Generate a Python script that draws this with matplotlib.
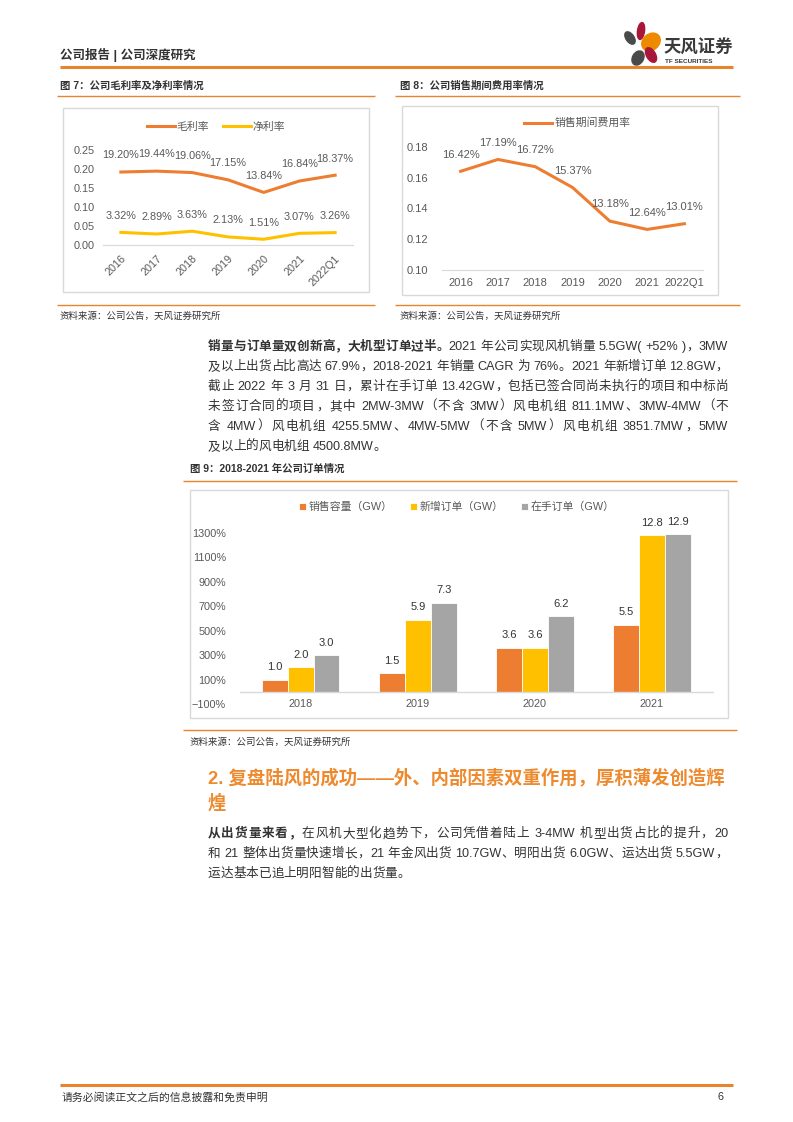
import re
import numpy as np
import matplotlib
matplotlib.use('Agg')
import matplotlib.pyplot as plt
from matplotlib.patches import Ellipse, Rectangle

plt.rcParams['font.family'] = ['Liberation Sans', 'Noto Sans CJK SC', 'DejaVu Sans']
plt.rcParams['axes.unicode_minus'] = True

# ---- data ----
years7 = ['2016', '2017', '2018', '2019', '2020', '2021', '2022Q1']
gross_margin = [0.1920, 0.1944, 0.1906, 0.1715, 0.1384, 0.1684, 0.1837]
net_margin = [0.0332, 0.0289, 0.0363, 0.0213, 0.0151, 0.0307, 0.0326]
expense_ratio = [0.1642, 0.1719, 0.1672, 0.1537, 0.1318, 0.1264, 0.1301]

years9 = ['2018', '2019', '2020', '2021']
sales_gw = [1.0, 1.5, 3.6, 5.5]
new_orders_gw = [2.0, 5.9, 3.6, 12.8]
backlog_gw = [3.0, 7.3, 6.2, 12.9]
y9_ticks = [-1, 1, 3, 5, 7, 9, 11, 13]

ORANGE = '#ED7D31'
YELLOW = '#FFC000'
GRAY = '#A5A5A5'
PAGE_OR = '#E8842C'
HEAD_OR = '#EE8A2E'
TXT = '#333333'
TICK = '#595959'
BOX = '#D9D9D9'

W, H = 793, 1122
fig = plt.figure(figsize=(W / 100, H / 100), dpi=100)
renderer = fig.canvas.get_renderer()

# page layer in pixel coordinates (origin top-left)
page = fig.add_axes([0, 0, 1, 1])
page.set_xlim(0, W)
page.set_ylim(H, 0)
page.axis('off')


def px_axes(x0, y0, x1, y1):
    return fig.add_axes([x0 / W, 1 - y1 / H, (x1 - x0) / W, (y1 - y0) / H])


def hline(x0, x1, y, lw=1.0, color=PAGE_OR):
    page.plot([x0, x1], [y, y], color=color, lw=lw, solid_capstyle='butt')


def text_w(s, size, bold=False):
    t = page.text(0, 0, s, fontsize=size, weight='bold' if bold else 'normal')
    w = t.get_window_extent(renderer).width
    t.remove()
    return w


TOKEN = re.compile(r'[A-Za-z0-9.%+\-()]+| |.')


def justify_line(x0, x1, y, parts, size, justify=True, color=TXT):
    space_w = text_w('a a', size) - text_w('aa', size)
    items = []  # (text_obj or None, width)
    for s, bold in parts:
        for tok in TOKEN.findall(s):
            if tok == ' ':
                items.append((None, space_w))
                continue
            t = page.text(0, y, tok, fontsize=size, weight='bold' if bold else 'normal',
                          va='center', ha='left', color=color)
            items.append((t, t.get_window_extent(renderer).width))
    total = sum(w for _, w in items)
    gap = (x1 - x0 - total) / (len(items) - 1) if justify and len(items) > 1 else 0
    gap = max(gap, -0.5)
    x = x0
    for t, w in items:
        if t is not None:
            t.set_x(x)
        x += w + gap


# ---- header ----
page.text(60, 55, '公司报告 | 公司深度研究', fontsize=9, weight='bold', va='center', color=TXT)
hline(60, 733, 67, lw=2.2)
# logo
page.add_patch(Ellipse((630, 38), 8, 14, angle=-35, color='#4A4A4A'))
page.add_patch(Ellipse((641, 31), 7, 17, angle=8, color='#A8173A'))
page.add_patch(Ellipse((651, 42), 16, 20, angle=50, color='#EE8A00'))
page.add_patch(Ellipse((638, 58), 11, 15, angle=30, color='#4A4A4A'))
page.add_patch(Ellipse((651, 55), 9, 16, angle=-30, color='#A8173A'))
page.text(664, 47, '天风证券', fontsize=12.5, weight='bold', va='center', color='#3A3A3A')
page.text(665, 61, 'TF SECURITIES', fontsize=4.6, weight='bold', va='center', color='#3A3A3A')

# ---- figure 7 & 8 frames ----
page.text(60, 86, '图 7：公司毛利率及净利率情况', fontsize=7.5, weight='bold', va='center', color=TXT)
hline(57, 375, 96)
page.add_patch(Rectangle((63, 108), 306, 184, fill=False, ec=BOX, lw=1))
hline(57, 375, 305)
page.text(60, 316, '资料来源：公司公告，天风证券研究所', fontsize=6.8, va='center', color=TXT)

page.text(400, 86, '图 8：公司销售期间费用率情况', fontsize=7.5, weight='bold', va='center', color=TXT)
hline(395, 740, 96)
page.add_patch(Rectangle((402, 106), 316, 189, fill=False, ec=BOX, lw=1))
hline(395, 740, 305)
page.text(400, 316, '资料来源：公司公告，天风证券研究所', fontsize=6.8, va='center', color=TXT)

# ---- chart 7 ----
ax7 = px_axes(103, 150, 353, 245)
ax7.set_facecolor('none')
x7 = np.arange(len(years7))
ax7.plot(x7, gross_margin, color=ORANGE, lw=2.2, label='毛利率')
ax7.plot(x7, net_margin, color=YELLOW, lw=2.2, label='净利率')
for i in x7:
    ax7.annotate(f'{gross_margin[i] * 100:.2f}%', (i, gross_margin[i]), xytext=(0, 12),
                 textcoords='offset points', ha='center', va='center', fontsize=7.8, color=TICK)
    ax7.annotate(f'{net_margin[i] * 100:.2f}%', (i, net_margin[i]), xytext=(0, 12),
                 textcoords='offset points', ha='center', va='center', fontsize=7.8, color=TICK)
ax7.set_xlim(-0.5, 6.5)
ax7.set_ylim(0, 0.25)
ax7.set_yticks([0, 0.05, 0.10, 0.15, 0.20, 0.25])
ax7.set_yticklabels([f'{v:.2f}' for v in [0, 0.05, 0.10, 0.15, 0.20, 0.25]])
ax7.set_xticks(x7)
ax7.set_xticklabels(years7, rotation=45, ha='right', rotation_mode='anchor')
ax7.tick_params(length=0, labelsize=7.8, labelcolor=TICK, pad=6)
for sp in ['top', 'right', 'left']:
    ax7.spines[sp].set_visible(False)
ax7.spines['bottom'].set_color(BOX)
ax7.legend(loc='center', bbox_to_anchor=(216 / W, 1 - 127 / H), bbox_transform=fig.transFigure,
           ncol=2, frameon=False, fontsize=7.8, handlelength=2.6, columnspacing=1.2,
           handletextpad=0.2, labelcolor=TICK)

# ---- chart 8 ----
ax8 = px_axes(442, 147, 703, 270)
ax8.set_facecolor('none')
ax8.plot(x7, expense_ratio, color=ORANGE, lw=2.2, label='销售期间费用率')
for i in x7:
    ax8.annotate(f'{expense_ratio[i] * 100:.2f}%', (i, expense_ratio[i]), xytext=(0, 12),
                 textcoords='offset points', ha='center', va='center', fontsize=8, color=TICK)
ax8.set_xlim(-0.5, 6.5)
ax8.set_ylim(0.10, 0.18)
ax8.set_yticks([0.10, 0.12, 0.14, 0.16, 0.18])
ax8.set_yticklabels([f'{v:.2f}' for v in [0.10, 0.12, 0.14, 0.16, 0.18]])
ax8.set_xticks(x7)
ax8.set_xticklabels(years7)
ax8.tick_params(length=0, labelsize=8, labelcolor=TICK)
ax8.tick_params(axis='y', pad=10)
ax8.tick_params(axis='x', pad=6)
for sp in ['top', 'right', 'left']:
    ax8.spines[sp].set_visible(False)
ax8.spines['bottom'].set_color(BOX)
ax8.legend(loc='center', bbox_to_anchor=(577 / W, 1 - 123 / H), bbox_transform=fig.transFigure,
           frameon=False, fontsize=7.8, handlelength=2.6, handletextpad=0.2, labelcolor=TICK)

# ---- paragraph 1 ----
BODY = 9.1
para1 = [
    [('销量与订单量双创新高，大机型订单过半。', True), ('2021 年公司实现风机销量 5.5GW( +52% )，3MW', False)],
    [('及以上出货占比高达 67.9%，2018-2021 年销量 CAGR 为 76%。2021 年新增订单 12.8GW，', False)],
    [('截止 2022 年 3 月 31 日，累计在手订单 13.42GW，包括已签合同尚未执行的项目和中标尚', False)],
    [('未签订合同的项目，其中 2MW-3MW（不含 3MW）风电机组 811.1MW、3MW-4MW（不', False)],
    [('含 4MW）风电机组 4255.5MW、4MW-5MW（不含 5MW）风电机组 3851.7MW，5MW', False)],
    [('及以上的风电机组 4500.8MW。', False)],
]
for k, parts in enumerate(para1):
    justify_line(208, 728, 347 + 20 * k, parts, BODY, justify=k < len(para1) - 1)

# ---- figure 9 frame ----
page.text(190, 469, '图 9：2018-2021 年公司订单情况', fontsize=7.5, weight='bold', va='center', color=TXT)
hline(183, 737, 481)
page.add_patch(Rectangle((190, 490), 538, 228, fill=False, ec=BOX, lw=1))
hline(183, 737, 730)
page.text(190, 742, '资料来源：公司公告，天风证券研究所', fontsize=6.8, va='center', color=TXT)

# ---- chart 9 ----
ax9 = px_axes(240, 533, 714, 704)
ax9.set_facecolor('none')
x9 = np.arange(len(years9))
bw = 0.22
series9 = [(sales_gw, ORANGE, '销售容量（GW）'),
           (new_orders_gw, YELLOW, '新增订单（GW）'),
           (backlog_gw, GRAY, '在手订单（GW）')]
for j, (vals, col, lab) in enumerate(series9):
    xs = x9 + (j - 1) * bw
    ax9.bar(xs, vals, width=bw, color=col, edgecolor='white', lw=0.6, label=lab)
    for xx, v in zip(xs, vals):
        ax9.annotate(f'{v:.1f}', (xx, v), xytext=(0, 9), textcoords='offset points',
                     ha='center', va='center', fontsize=8, color=TXT)
ax9.axhline(0, color=BOX, lw=1)
ax9.set_xlim(-0.52, 3.53)
ax9.set_ylim(-1, 13)
ax9.set_yticks(y9_ticks)
ax9.set_yticklabels([f'{v * 100}%'.replace('-', '\u2212') for v in y9_ticks])
ax9.set_xticks([])
for i, yr in enumerate(years9):
    ax9.text(i, -1, yr, ha='center', va='center', fontsize=7.8, color=TICK)
ax9.tick_params(length=0, labelsize=7.8, labelcolor=TICK, pad=10)
for sp in ['top', 'right', 'left', 'bottom']:
    ax9.spines[sp].set_visible(False)
ax9.legend(loc='center', bbox_to_anchor=(457 / W, 1 - 507 / H), bbox_transform=fig.transFigure,
           ncol=3, frameon=False, fontsize=7.8, handlelength=0.6, handleheight=0.6,
           handletextpad=0.3, columnspacing=1.6, labelcolor=TICK)

# ---- section heading & paragraph 2 ----
page.text(208, 778, '2. 复盘陆风的成功——外、内部因素双重作用，厚积薄发创造辉',
          fontsize=13.2, weight='bold', va='center', color=HEAD_OR)
page.text(208, 803, '煌', fontsize=13.2, weight='bold', va='center', color=HEAD_OR)

para2 = [
    [('从出货量来看，', True), ('在风机大型化趋势下，公司凭借着陆上 3-4MW 机型出货占比的提升，20', False)],
    [('和 21 整体出货量快速增长，21 年金风出货 10.7GW、明阳出货 6.0GW、运达出货 5.5GW，', False)],
    [('运达基本已追上明阳智能的出货量。', False)],
]
for k, parts in enumerate(para2):
    justify_line(208, 728, 834 + 20 * k, parts, BODY, justify=k < len(para2) - 1)

# ---- footer ----
hline(60, 733, 1085, lw=2.2)
page.text(62, 1097, '请务必阅读正文之后的信息披露和免责申明', fontsize=7.8, va='center', color=TXT)
page.text(724, 1097, '6', fontsize=7.8, va='center', ha='right', color=TXT)

fig.savefig('out.png', dpi=100)
